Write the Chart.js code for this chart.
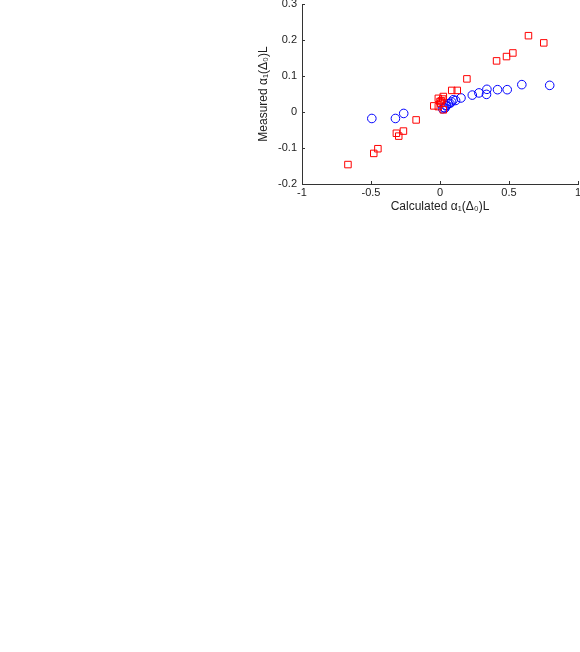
<!DOCTYPE html>
<html>
<head>
<meta charset="utf-8">
<script src="https://cdn.jsdelivr.net/npm/chart.js@4/dist/chart.umd.min.js"></script>
<style>
  html, body { margin: 0; padding: 0; background: #fff; }
  #plot { display: block; }
</style>
</head>
<body>
<canvas id="plot" width="580" height="652"></canvas>
<script>
// red squares
var calcRed = [-0.667, -0.48, -0.45, -0.316, -0.299, -0.265, -0.173, -0.045, -0.012, 0.0, -0.012, 0.005, 0.02, 0.024, 0.024, 0.01, 0.085, 0.125, 0.195, 0.41, 0.482, 0.528, 0.641, 0.752];
var measRed = [-0.146, -0.115, -0.102, -0.059, -0.067, -0.053, -0.022, 0.017, 0.038, 0.029, 0.015, 0.024, 0.036, 0.006, 0.043, 0.031, 0.06, 0.06, 0.092, 0.142, 0.154, 0.164, 0.212, 0.192];

// blue circles
var calcBlue = [-0.494, -0.323, -0.263, 0.019, 0.029, 0.036, 0.043, 0.048, 0.06, 0.072, 0.084, 0.096, 0.113, 0.152, 0.234, 0.282, 0.337, 0.34, 0.417, 0.487, 0.593, 0.795];
var measBlue = [-0.018, -0.018, -0.004, 0.009, 0.012, 0.011, 0.017, 0.018, 0.023, 0.024, 0.028, 0.034, 0.032, 0.039, 0.047, 0.053, 0.049, 0.063, 0.062, 0.062, 0.076, 0.074];

var xTicks = [-1, -0.5, 0, 0.5, 1];
var yTicks = [-0.2, -0.1, 0, 0.1, 0.2, 0.3];

function pts(xs, ys) {
    var out = [];
    for (var i = 0; i < xs.length; i++) out.push({x: xs[i], y: ys[i]});
    return out;
}

// small inward tick marks on the left and bottom axes
var inwardTicks = {
    id: 'inwardTicks',
    afterDraw: function (chart) {
        var ctx = chart.ctx, xs = chart.scales.x, ys = chart.scales.y, a = chart.chartArea;
        ctx.save();
        ctx.strokeStyle = '#333';
        ctx.lineWidth = 1;
        ctx.beginPath();
        xTicks.forEach(function (v) {
            var px = Math.round(xs.getPixelForValue(v)) + 0.5;
            ctx.moveTo(px, a.bottom);
            ctx.lineTo(px, a.bottom - 3);
        });
        yTicks.forEach(function (v) {
            var py = Math.round(ys.getPixelForValue(v)) + 0.5;
            ctx.moveTo(a.left, py);
            ctx.lineTo(a.left + 3, py);
        });
        ctx.stroke();
        ctx.restore();
    }
};

var tickFont = {family: '"Liberation Sans", Arial, sans-serif', size: 11};
var titleFont = {family: '"Liberation Sans", Arial, sans-serif', size: 12};

var ctx = document.getElementById("plot").getContext("2d");
new Chart(ctx, {
    type: 'scatter',
    data: {
        datasets: [
            {
                label: "squares",
                data: pts(calcRed, measRed),
                pointStyle: 'rect',
                pointRadius: 4.6,
                borderColor: '#ff0000',
                backgroundColor: 'rgba(0,0,0,0)',
                borderWidth: 1
            },
            {
                label: "circles",
                data: pts(calcBlue, measBlue),
                pointStyle: 'circle',
                pointRadius: 4.3,
                borderColor: '#0000ff',
                backgroundColor: 'rgba(0,0,0,0)',
                borderWidth: 1
            }
        ]
    },
    options: {
        responsive: false,
        animation: false,
        layout: {autoPadding: false, padding: {left: 252, right: 2, top: 4, bottom: 434}},
        plugins: {legend: {display: false}, tooltip: {enabled: false}},
        scales: {
            x: {
                type: 'linear',
                min: -1, max: 1,
                afterBuildTicks: function (s) { s.ticks = xTicks.map(function (v) { return {value: v}; }); },
                afterFit: function (s) { s.height = 34; s.paddingLeft = 0; s.paddingRight = 0; },
                grid: {display: false, drawTicks: false, tickLength: 0},
                border: {display: true, color: '#333', width: 1},
                ticks: {
                    color: '#222', font: tickFont, padding: 2, maxRotation: 0,
                    callback: function (v) { return String(v); }
                },
                title: {display: true, text: 'Calculated α₁(Δ₀)L', color: '#222', font: titleFont}
            },
            y: {
                type: 'linear',
                min: -0.2, max: 0.3,
                afterBuildTicks: function (s) { s.ticks = yTicks.map(function (v) { return {value: v}; }); },
                afterFit: function (s) { s.width = 50; s.paddingTop = 0; s.paddingBottom = 0; },
                grid: {display: false, drawTicks: false, tickLength: 0},
                border: {display: true, color: '#333', width: 1},
                ticks: {
                    color: '#222', font: tickFont, padding: 5,
                    callback: function (v) { return String(Math.round(v * 10) / 10); }
                },
                title: {display: true, text: 'Measured α₁(Δ₀)L', color: '#222', font: titleFont}
            }
        }
    },
    plugins: [inwardTicks]
});
</script>
</body>
</html>
